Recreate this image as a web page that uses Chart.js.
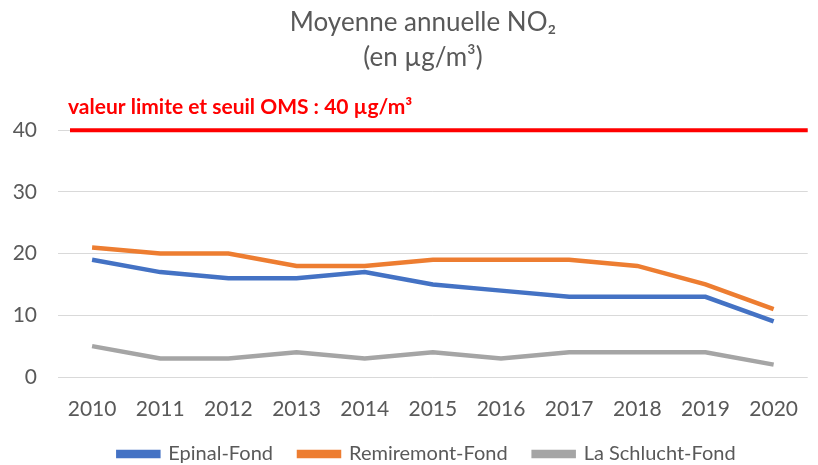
<!DOCTYPE html>
<html>
<head>
<meta charset="utf-8">
<script src="https://cdn.jsdelivr.net/npm/chart.js@4/dist/chart.umd.min.js"></script>
<style>
html,body{margin:0;padding:0;background:#fff;}
#wrap{width:818px;height:465px;}
</style>
</head>
<body>
<div id="wrap"><canvas id="c" width="818" height="465"></canvas></div>
<script>
const years = ['2010','2011','2012','2013','2014','2015','2016','2017','2018','2019','2020'];
const epinal = [19, 17, 16, 16, 17, 15, 14, 13, 13, 13, 9];
const remiremont = [21, 20, 20, 18, 18, 19, 19, 19, 18, 15, 11];
const schlucht = [5, 3, 3, 4, 3, 4, 3, 4, 4, 4, 2];
const yTicks = [0, 10, 20, 30, 40];
const limitValue = 40;
const limitLabel = 'valeur limite et seuil OMS : 40 µg/m³';
const titleLines = ['Moyenne annuelle NO₂', '(en µg/m³)'];

const limitPlugin = {
  id: 'limitLine',
  afterDatasetsDraw(chart) {
    const ctx = chart.ctx;
    const y = chart.scales.y.getPixelForValue(limitValue);
    const area = chart.chartArea;
    ctx.save();
    ctx.strokeStyle = '#FF0000';
    ctx.lineWidth = 4;
    ctx.beginPath();
    ctx.moveTo(area.left + 12, y);
    ctx.lineTo(area.right, y);
    ctx.stroke();
    ctx.fillStyle = '#FF0000';
    ctx.font = 'bold 21px Lato';
    ctx.textBaseline = 'alphabetic';
    ctx.textAlign = 'left';
    ctx.fillText(limitLabel, area.left + 10, y - 16);
    ctx.restore();
  }
};

const shiftPlugin = {
  id: 'shiftBlocks',
  afterLayout(chart) {
    if (chart.legend) { chart.legend.left += 14; chart.legend.right += 14; }
    if (chart.titleBlock) { chart.titleBlock.left += 10; chart.titleBlock.right += 10; }
  }
};

new Chart(document.getElementById('c'), {
  type: 'line',
  data: {
    labels: years,
    datasets: [
      {label: 'Epinal-Fond', data: epinal, borderColor: '#4472C4', backgroundColor: '#4472C4', borderWidth: 4.5, pointRadius: 0, tension: 0},
      {label: 'Remiremont-Fond', data: remiremont, borderColor: '#ED7D31', backgroundColor: '#ED7D31', borderWidth: 4.5, pointRadius: 0, tension: 0},
      {label: 'La Schlucht-Fond', data: schlucht, borderColor: '#A5A5A5', backgroundColor: '#A5A5A5', borderWidth: 4.5, pointRadius: 0, tension: 0}
    ]
  },
  options: {
    responsive: false,
    animation: false,
    layout: {padding: {left: 0, right: -8, top: 0, bottom: -9}},
    plugins: {
      title: {
        display: true,
        text: titleLines,
        color: '#595959',
        font: {family: 'Lato', size: 26, weight: 'normal', lineHeight: 1.35},
        padding: {top: 5, bottom: 55}
      },
      legend: {
        position: 'bottom',
        labels: {
          color: '#595959',
          font: {family: 'Lato', size: 20},
          boxWidth: 40,
          boxHeight: 4,
          padding: 26
        }
      },
      tooltip: {enabled: false}
    },
    scales: {
      x: {
        offset: true,
        grid: {display: false, drawTicks: false},
        border: {display: false},
        ticks: {color: '#595959', font: {family: 'Lato', size: 21}, padding: 20, maxRotation: 0, autoSkip: false},
        afterFit(scale) { scale.height = 41; }
      },
      y: {
        min: 0,
        max: 40,
        afterBuildTicks(scale) { scale.ticks = yTicks.map(v => ({value: v})); },
        grid: {color: '#D9D9D9', lineWidth: 1, drawTicks: false},
        border: {display: false},
        ticks: {color: '#595959', font: {family: 'Lato', size: 21}, padding: 21},
        afterFit(scale) { scale.width = 58; }
      }
    }
  },
  plugins: [limitPlugin, shiftPlugin]
});
</script>
</body>
</html>
